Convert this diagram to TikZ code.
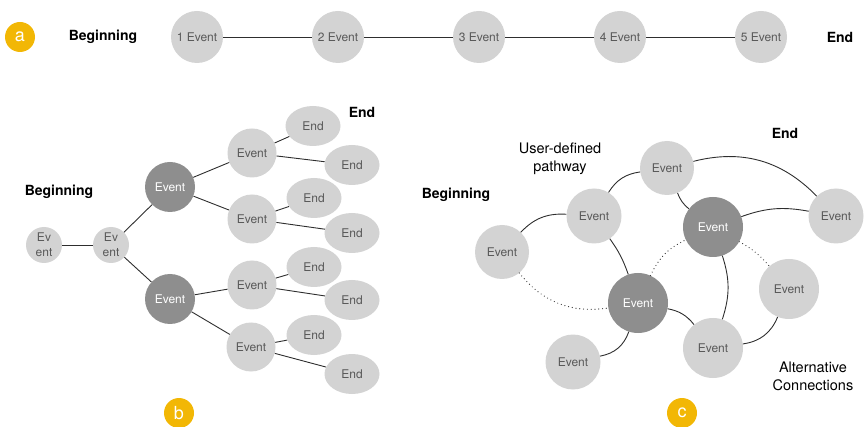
\documentclass[tikz,border=0pt]{standalone}
\usepackage{fontspec}
\setmainfont{TeX Gyre Heros}
\usetikzlibrary{shapes.geometric}
\definecolor{lightg}{HTML}{D3D3D3}
\definecolor{darkg}{HTML}{8E8E8E}
\definecolor{evtext}{HTML}{595959}
\definecolor{badgey}{HTML}{F2B705}
\definecolor{linec}{HTML}{2E2E2E}
\begin{document}
\begin{tikzpicture}[x=1pt,y=-1pt,
  ev/.style={circle, fill=lightg, text=evtext, inner sep=0pt, minimum size=#1, align=center, font=\fontsize{12}{15}\selectfont},
  ev/.default=52pt,
  dk/.style={circle, fill=darkg, text=white, inner sep=0pt, minimum size=#1, font=\fontsize{12}{15}\selectfont},
  dk/.default=50pt,
  endn/.style={ellipse, fill=lightg, text=evtext, inner sep=0pt, minimum width=55pt, minimum height=40pt, font=\fontsize{12}{15}\selectfont},
  lbl/.style={font=\fontsize{14}{17}\selectfont\bfseries},
  note/.style={font=\fontsize{14.5}{18}\selectfont, align=center},
  badge/.style={circle, fill=badgey, text=white, inner sep=0pt, minimum size=30pt, font=\fontsize{18}{18}\selectfont},
  conn/.style={draw=linec, line width=0.9pt},
  alt/.style={draw=linec, line width=1.2pt, line cap=round, dash pattern=on 0pt off 3.8pt}
]
\useasboundingbox (0,0) rectangle (864,427);

% ---------- panel a ----------
\node[badge] (ba) at (20,37) {a};
\node[lbl] (abeg) at (103,37) {Beginning};
\node[ev] (a1) at (197,37) {1 Event};
\node[ev] (a2) at (338,37) {2 Event};
\node[ev] (a3) at (479,37) {3 Event};
\node[ev] (a4) at (620,37) {4 Event};
\node[ev] (a5) at (761,37) {5 Event};
\node[lbl] (aend) at (840,37) {End};
\draw[conn] (a1) -- (a2);
\draw[conn] (a2) -- (a3);
\draw[conn] (a3) -- (a4);
\draw[conn] (a4) -- (a5);

% ---------- panel b ----------
\node[lbl] (bbeg) at (59,192) {Beginning};
\node[lbl] (bend) at (362,112) {End};
\node[ev=36pt] (b1) at (44,245) {Ev\\ent};
\node[ev=36pt] (b2) at (111,245) {Ev\\ent};
\node[dk] (bd1) at (170,187) {Event};
\node[dk] (bd2) at (170,299) {Event};
\node[ev=49pt] (be1) at (252,153) {Event};
\node[ev=49pt] (be2) at (252,219) {Event};
\node[ev=49pt] (be3) at (252,285) {Event};
\node[ev=49pt] (be4) at (251,347) {Event};
\node[endn] (bn1) at (313,126) {End};
\node[endn] (bn2) at (352,165) {End};
\node[endn] (bn3) at (314,198) {End};
\node[endn] (bn4) at (352,233) {End};
\node[endn] (bn5) at (314,267) {End};
\node[endn] (bn6) at (352,300) {End};
\node[endn] (bn7) at (314,335) {End};
\node[endn] (bn8) at (352,374) {End};
\node[badge] (bb) at (179,413) {b};
\draw[conn] (b1) -- (b2);
\draw[conn] (b2) -- (bd1);
\draw[conn] (b2) -- (bd2);
\draw[conn] (bd1) -- (be1);
\draw[conn] (bd1) -- (be2);
\draw[conn] (bd2) -- (be3);
\draw[conn] (bd2) -- (be4);
\draw[conn] (be1) -- (bn1);
\draw[conn] (be1) -- (bn2);
\draw[conn] (be2) -- (bn3);
\draw[conn] (be2) -- (bn4);
\draw[conn] (be3) -- (bn5);
\draw[conn] (be3) -- (bn6);
\draw[conn] (be4) -- (bn7);
\draw[conn] (be4) -- (bn8);

% ---------- panel c ----------
\node[lbl] (cbeg) at (456,195) {Beginning};
\node[lbl] (cend) at (785,133) {End};
\node[note] (cuser) at (560,159) {User-defined\\pathway};
\node[note] (calt) at (813,376) {Alternative\\Connections};
\node[ev=54pt] (c1) at (502,252) {Event};
\node[ev=55pt] (c2) at (594,216) {Event};
\node[ev=54pt] (c3) at (667,168) {Event};
\node[dk=60pt] (cd1) at (713,227) {Event};
\node[ev=55pt] (c4) at (836,216) {Event};
\node[dk=60pt] (cd2) at (638,303) {Event};
\node[ev=60pt] (c5) at (789,289) {Event};
\node[ev=60pt] (c6) at (713,348) {Event};
\node[ev=55pt] (c7) at (573,362) {Event};
\node[badge] (bc) at (682,413) {c};
\draw[conn] (c1) to[bend left=25] (c2);
\draw[conn] (c2) to[bend left=25] (c3);
\draw[conn] (c2) to[bend left=8] (cd2);
\draw[conn] (c3) to[bend right=15] (cd1);
\draw[conn] (c3) to[bend left=30] (c4);
\draw[conn] (cd1) to[bend left=15] (c4);
\draw[conn] (cd1) to[bend left=18] (c6);
\draw[conn] (cd2) to[bend left=20] (c6);
\draw[conn] (cd2) to[bend left=30] (c7);
\draw[conn] (c5) to[bend left=30] (c6);
\draw[alt] (c1) to[bend right=30] (cd2);
\draw[alt] (cd2) to[bend left=20] (cd1);
\draw[alt] (cd1) to[bend left=10] (c5);
\end{tikzpicture}
\end{document}
